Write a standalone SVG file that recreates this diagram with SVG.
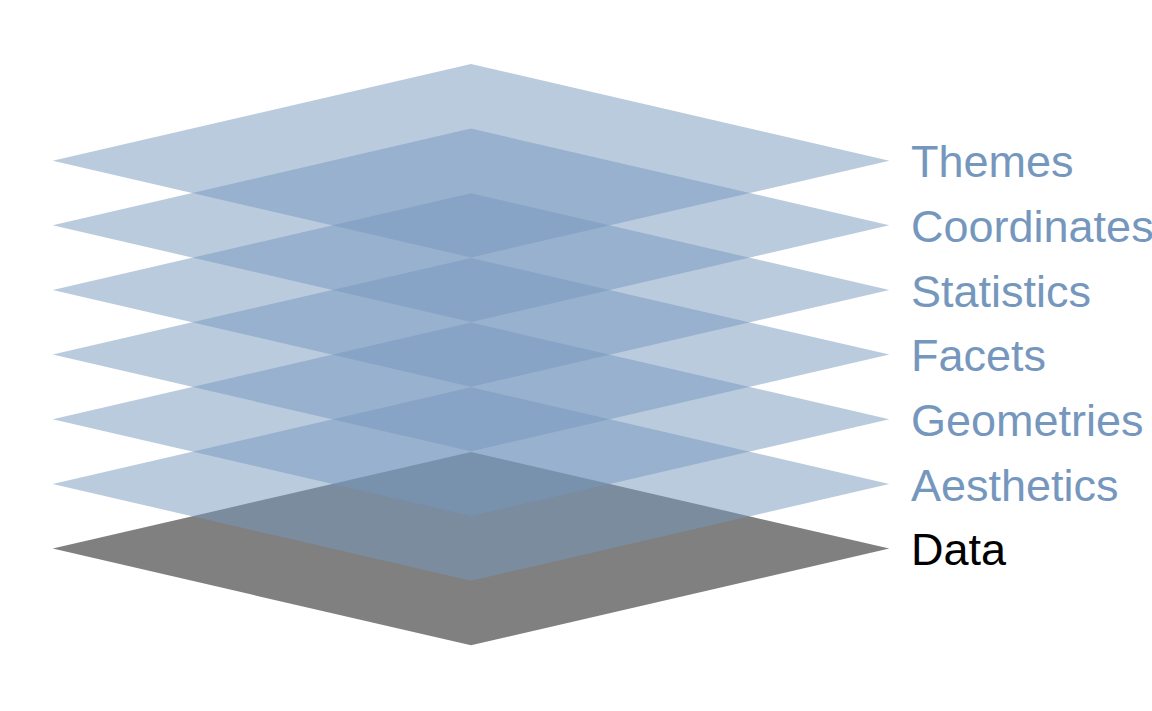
<svg xmlns="http://www.w3.org/2000/svg" width="1152" height="711" viewBox="0 0 1152 711">
<style>
.layer{fill:#7697bd;fill-opacity:0.5}
.data{fill:#808080}
.lbl{font-family:"Liberation Sans",Arial,sans-serif;font-size:45px;fill:#7697bd}
.dlbl{font-family:"Liberation Sans",Arial,sans-serif;font-size:45px;fill:#000000}
</style>
<defs>
<polygon id="dia" points="-418.3,0 0,-96.7 418.3,0 0,96.7"/>
</defs>
<rect width="1152" height="711" fill="#ffffff"/>
<g id="data"><use href="#dia" class="data" x="471" y="548.6"/><text class="dlbl" x="911" y="565.3">Data</text></g>
<g id="aesthetics"><use href="#dia" class="layer" x="471" y="484"/><text class="lbl" x="911" y="500.7">Aesthetics</text></g>
<g id="geometries"><use href="#dia" class="layer" x="471" y="419.3"/><text class="lbl" x="911" y="436">Geometries</text></g>
<g id="facets"><use href="#dia" class="layer" x="471" y="354.6"/><text class="lbl" x="911" y="371.3">Facets</text></g>
<g id="statistics"><use href="#dia" class="layer" x="471" y="290"/><text class="lbl" x="911" y="306.7">Statistics</text></g>
<g id="coordinates"><use href="#dia" class="layer" x="471" y="225.3"/><text class="lbl" x="911" y="242">Coordinates</text></g>
<g id="themes"><use href="#dia" class="layer" x="471" y="160.7"/><text class="lbl" x="911" y="177.4">Themes</text></g>
<g id="connectors"></g>
</svg>
